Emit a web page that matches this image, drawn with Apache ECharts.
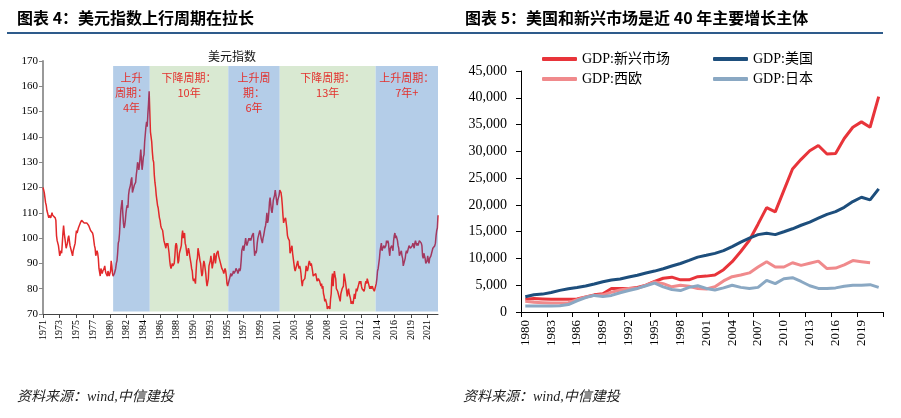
<!DOCTYPE html>
<html><head><meta charset="utf-8">
<script src="https://cdn.jsdelivr.net/npm/echarts@6/dist/echarts.min.js"></script>
<style>html,body{margin:0;padding:0;background:#fff;}#c{width:901px;height:418px;}</style>
</head><body><div id="c"></div>
<script>
// ---------- Left chart: US dollar index (monthly, from 1971-05) ----------
const dxyStartYear = 1971, dxyStartMonth = 5;
const dxyValues = [
  120,119,118,116,114,113,111,110,
  109,108,109,109,108,109,110,109,109,109,109,108,
  107,101,99,99,97,95,93,94,95,94,98,102,
  105,102,100,98,96,97,98,100,101,99,97,97,
  95,94,93,95,95,95,98,101,103,102,103,104,
  104,104,106,106,107,107,107,107,106,106,106,106,
  106,106,106,105,105,105,103,103,103,102,101,99,
  97,96,93,94,95,94,92,88,88,85,88,87,
  86,87,87,88,89,87,86,86,85,87,86,85,
  86,87,91,89,86,85,85,86,86,88,90,91,
  94,98,99,102,107,111,113,115,110,106,104,105,
  107,110,112,113,112,117,119,120,121,123,124,118,
  118,120,121,121,122,125,127,130,129,127,129,132,
  135,131,127,129,132,133,138,138,144,146,144,149,
  153,158,150,142,140,138,134,131,130,125,122,120,
  117,115,113,112,110,108,107,105,104,104,103,101,
  99,98,97,96,98,97,98,96,94,91,89,88,
  88,90,89,89,90,93,97,98,97,93,90,91,
  94,95,96,97,101,103,100,101,102,98,97,95,
  93,93,96,95,93,93,90,88,87,84,83,84,
  83,82,87,91,92,96,96,93,91,90,87,85,
  86,89,91,90,88,86,83,81,81,84,89,89,
  91,93,91,88,88,91,94,93,90,92,94,94,
  95,93,92,92,90,90,88,88,87,86,87,88,
  87,85,82,81,82,82,82,85,86,85,85,86,
  87,86,86,87,88,88,87,86,87,88,87,88,
  91,95,95,97,95,95,98,100,98,97,97,99,
  100,99,100,99,99,101,101,102,97,93,95,94,
  95,98,100,101,101,103,102,100,99,98,100,101,
  101,104,105,107,110,106,107,110,114,116,116,111,
  110,112,115,116,117,119,119,115,113,115,116,117,
  119,119,118,116,113,109,106,107,107,108,106,104,
  101,100,100,99,94,94,96,97,94,92,92,88,
  87,87,89,90,91,89,88,89,88,86,83,81,
  83,83,83,84,86,89,89,87,88,90,91,91,
  89,90,90,87,85,85,85,85,86,86,83,83,
  84,84,83,82,81,82,80,81,78,77,75,76,
  75,74,72,72,73,73,72,76,78,84,86,81,
  85,87,85,84,80,80,79,78,77,76,75,78,
  78,80,80,81,86,86,83,83,79,77,79,80,
  78,77,76,74,75,75,74,74,78,76,78,80,
  79,79,79,79,83,82,83,81,80,80,80,79,
  80,82,83,82,84,83,82,81,80,81,80,80,
  81,80,80,79,80,80,82,84,87,88,90,92,
  95,95,98,95,96,96,97,96,96,97,99,98,
  99,98,95,93,96,96,97,96,95,99,101,102,
  100,101,100,99,97,96,93,93,93,95,93,92,
  89,90,90,92,94,95,94,95,95,97,97,96,
  96,96,97,98,98,96,98,99,99,97,98,97,
  98,99,99,99,98,97,93,92,94,94,92,90,
  90,91,93,91,90,92,92,93,94,94,96,96,
  96,97,98,101,103,104,109
];
const dxyTickLabels = ['1971','1973','1975','1977','1980','1982','1984','1986','1988','1990','1993','1995',
  '1997','1999','2001','2003','2006','2008','2010','2012','2014','2016','2019','2021'];
const bandStarts = ['1980-06','1985-03','1995-05','2002-01','2014-06'];
const bandEnds   = ['1985-03','1995-05','2002-01','2014-06','2022-07'];
const bandKinds  = ['up','down','up','down','up'];
const bandLabels = ['上升\n周期：\n4年','下降周期：\n10年','上升周\n期：\n6年','下降周期：\n13年','上升周期：\n7年+'];

// ---------- Right chart: GDP (USD bn) ----------
const gdpYears = ['1980','1981','1982','1983','1984','1985','1986','1987','1988','1989',
  '1990','1991','1992','1993','1994','1995','1996','1997','1998','1999',
  '2000','2001','2002','2003','2004','2005','2006','2007','2008','2009',
  '2010','2011','2012','2013','2014','2015','2016','2017','2018','2019','2020','2021'];
const gdpEmerging = [2400,2500,2450,2400,2400,2400,2450,2800,3200,3400,
  4400,4400,4400,4600,5000,5700,6300,6500,6000,6000,
  6600,6700,6900,7900,9400,11300,13400,16400,19500,18700,
  22700,26700,28500,30100,31100,29500,29600,32400,34500,35500,34500,40200];
const gdpUS = [2860,3210,3340,3640,4040,4340,4580,4860,5240,5640,
  5960,6160,6520,6860,7290,7640,8070,8580,9060,9630,
  10250,10580,10940,11460,12210,13040,13810,14450,14710,14450,
  14990,15540,16200,16780,17530,18240,18750,19540,20610,21430,20940,23000];
const gdpWestEurope = [2000,1800,1750,1700,1700,1750,2300,2800,3100,3200,
  3700,4100,4400,4400,5000,5600,5300,4700,5000,4800,
  4400,4300,4700,5800,6600,6900,7300,8400,9400,8400,
  8400,9200,8700,9100,9500,8100,8200,8800,9600,9400,9200,null];
const gdpJapan = [1100,1100,1100,1100,1150,1400,2100,2700,3100,2900,
  3100,3600,4000,4400,4900,5400,4700,4200,4000,4600,
  4900,4400,4100,4500,5000,4600,4400,4600,5900,5300,
  6200,6400,5700,4900,4400,4400,4500,4800,5000,5000,5100,4600];

// ---------- build ----------
const SERIF = "'Liberation Serif','Times New Roman','Noto Sans CJK SC',serif";
const CJK = "'Noto Sans CJK SC','Noto Sans CJK JP',sans-serif";
const dxyMonths = dxyValues.map((_, i) => {
  const t = dxyStartYear * 12 + (dxyStartMonth - 1) + i;
  return Math.floor(t / 12) + '-' + String(t % 12 + 1).padStart(2, '0');
});
const BLUE_BAND = '#b4cde8', GREEN_BAND = '#d9e9d2';
const LINE_RED = '#e2282a', LINE_PURPLE = '#a3385f';
const pieces = [];
bandStarts.forEach((s, i) => {
  if (bandKinds[i] === 'up') pieces.push({ gte: dxyMonths.indexOf(s), lte: dxyMonths.indexOf(bandEnds[i]), color: LINE_PURPLE });
});
const bandData = bandStarts.map((s, i) => [
  { xAxis: s, yAxis: 71, itemStyle: { color: bandKinds[i] === 'up' ? BLUE_BAND : GREEN_BAND }, label: { formatter: bandLabels[i] } },
  { xAxis: bandEnds[i], yAxis: 168 }
]);

const chart = echarts.init(document.getElementById('c'), null, { renderer: 'canvas' });
const legendBase = { icon: 'roundRect', itemWidth: 35, itemHeight: 4, padding: 0, itemGap: 0,
  textStyle: { fontFamily: SERIF, fontSize: 14, color: '#000' } };
chart.setOption({
  animation: false,
  backgroundColor: '#fff',
  grid: [
    { left: 43, top: 61, width: 395, height: 253, containLabel: false },
    { left: 521, top: 71, width: 362, height: 241, containLabel: false }
  ],
  legend: [
    Object.assign({ data: ['GDP:新兴市场'], left: 542, top: 52 }, legendBase),
    Object.assign({ data: ['GDP:美国'], left: 713, top: 52 }, legendBase),
    Object.assign({ data: ['GDP:西欧'], left: 542, top: 72 }, legendBase),
    Object.assign({ data: ['GDP:日本'], left: 713, top: 72 }, legendBase)
  ],
  visualMap: { show: false, seriesIndex: 0, dimension: 0, pieces: pieces, outOfRange: { color: LINE_RED } },
  xAxis: [
    { type: 'category', gridIndex: 0, data: dxyMonths, boundaryGap: false,
      axisLine: { show: true, lineStyle: { color: '#444', width: 1 } },
      axisTick: { show: true, interval: 25, length: 4, lineStyle: { color: '#444' } },
      axisLabel: { interval: 25, rotate: 90, margin: 6, fontSize: 10, fontFamily: SERIF, color: '#000',
        hideOverlap: false,
        formatter: (v, idx) => dxyTickLabels[Math.round(idx / 26)] || v.slice(0, 4) },
      splitLine: { show: false } },
    { type: 'category', gridIndex: 1, data: gdpYears, boundaryGap: true,
      axisLine: { show: true, lineStyle: { color: '#000', width: 1 } },
      axisTick: { show: true, interval: 2, length: 5, lineStyle: { color: '#000' } },
      axisLabel: { interval: 2, rotate: 90, margin: 8, fontSize: 13, fontFamily: SERIF, color: '#000' },
      splitLine: { show: false } }
  ],
  yAxis: [
    { type: 'value', gridIndex: 0, min: 70, max: 170, interval: 10,
      axisLine: { show: true, lineStyle: { color: '#999', width: 2 } },
      axisTick: { show: true, length: 4, lineStyle: { color: '#888' } },
      axisLabel: { margin: 5, fontSize: 11, fontFamily: SERIF, color: '#000' },
      splitLine: { show: false } },
    { type: 'value', gridIndex: 1, min: 0, max: 45000, interval: 5000,
      axisLine: { show: true, lineStyle: { color: '#000', width: 1 } },
      axisTick: { show: true, length: 5, lineStyle: { color: '#000' } },
      axisLabel: { margin: 14, fontSize: 14, fontFamily: SERIF, color: '#000',
        formatter: v => v.toLocaleString('en-US') },
      splitLine: { show: false } }
  ],
  series: [
    { name: '美元指数', type: 'line', xAxisIndex: 0, yAxisIndex: 0, data: dxyValues,
      showSymbol: false, symbol: 'none', z: 3, lineStyle: { width: 1.5 },
      markArea: { silent: true, data: bandData,
        label: { show: true, position: 'insideTop', distance: 4, color: '#e3312d', fontSize: 11,
          lineHeight: 15, fontFamily: CJK, align: 'center' } } },
    { name: 'GDP:新兴市场', type: 'line', xAxisIndex: 1, yAxisIndex: 1, data: gdpEmerging,
      symbol: 'none', color: '#e8343a', lineStyle: { width: 3, color: '#e8343a' } },
    { name: 'GDP:美国', type: 'line', xAxisIndex: 1, yAxisIndex: 1, data: gdpUS,
      symbol: 'none', color: '#1d4e7c', lineStyle: { width: 3, color: '#1d4e7c' } },
    { name: 'GDP:西欧', type: 'line', xAxisIndex: 1, yAxisIndex: 1, data: gdpWestEurope,
      symbol: 'none', color: '#f08a8c', lineStyle: { width: 3, color: '#f08a8c' } },
    { name: 'GDP:日本', type: 'line', xAxisIndex: 1, yAxisIndex: 1, data: gdpJapan,
      symbol: 'none', color: '#8aa8c3', lineStyle: { width: 3, color: '#8aa8c3' } }
  ],
  graphic: [
    { type: 'rect', silent: true, shape: { x: 7, y: 32, width: 876, height: 2 }, style: { fill: '#2e5b8b' } },
    { type: 'text', silent: true, x: 17, y: 18, style: { text: '图表 4：美元指数上行周期在拉长',
      font: 'bold 16px ' + CJK, fill: '#000', verticalAlign: 'middle' } },
    { type: 'text', silent: true, x: 465, y: 18, style: { text: '图表 5：美国和新兴市场是近 40 年主要增长主体',
      font: 'bold 16px ' + CJK, fill: '#000', verticalAlign: 'middle' } },
    { type: 'text', silent: true, x: 232, y: 56, style: { text: '美元指数',
      font: '12px ' + CJK, fill: '#111', align: 'center', verticalAlign: 'middle' } },
    { type: 'text', silent: true, x: 17, y: 397, style: { text: '资料来源：wind,中信建投',
      font: 'italic 14px ' + SERIF, fill: '#222', verticalAlign: 'middle' } },
    { type: 'text', silent: true, x: 463, y: 397, style: { text: '资料来源：wind,中信建投',
      font: 'italic 14px ' + SERIF, fill: '#222', verticalAlign: 'middle' } }
  ]
});
</script>
</body></html>
